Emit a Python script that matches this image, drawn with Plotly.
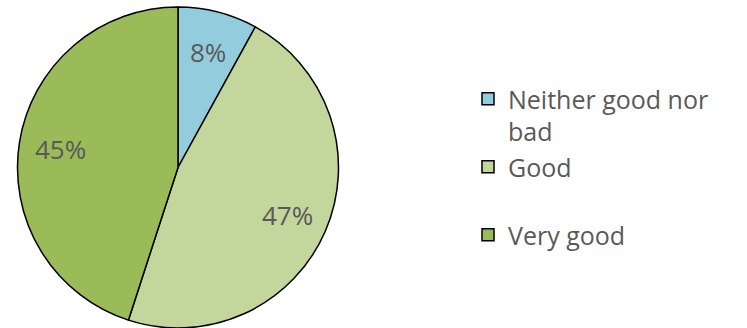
import math
import plotly.graph_objects as go

# Survey ratings
categories = ["Neither good nor<br>bad", "Good<br> ", "Very good"]
shares = [8, 47, 45]
slice_colors = ["#93CDDD", "#C3D69B", "#9BBB59"]

W, H = 747, 328
legend_font = dict(family="Open Sans", size=25, color="#595959")
label_font = dict(family="Open Sans", size=26, color="#595959")

# Pie placement in pixels (left, right, top, bottom of its domain)
pie_left, pie_right, pie_top, pie_bottom = 17, 339, 7, 328
cx = (pie_left + pie_right) / 2
cy = (pie_top + pie_bottom) / 2
radius = min(pie_right - pie_left, pie_bottom - pie_top) / 2
label_radius = 0.74 * radius

fig = go.Figure(
    go.Pie(
        labels=categories,
        values=shares,
        sort=False,
        direction="clockwise",
        rotation=0,
        marker=dict(colors=slice_colors, line=dict(color="#000000", width=1.5)),
        textinfo="none",
        domain=dict(x=[pie_left / W, pie_right / W], y=[1 - pie_bottom / H, 1 - pie_top / H]),
        hoverinfo="label+percent",
    )
)

# Percentage labels at the middle angle of each slice
total = sum(shares)
start = 0.0
for share in shares:
    mid = (start + share / 2) / total * 2 * math.pi
    px = cx + label_radius * math.sin(mid)
    py = cy - label_radius * math.cos(mid)
    fig.add_annotation(
        x=px / W,
        y=1 - py / H,
        xref="paper",
        yref="paper",
        text=f"{round(share / total * 100)}%",
        showarrow=False,
        font=label_font,
        xanchor="center",
        yanchor="middle",
    )
    start += share

fig.update_layout(
    width=W,
    height=H,
    margin=dict(l=0, r=0, t=0, b=0),
    paper_bgcolor="white",
    plot_bgcolor="white",
    font=legend_font,
    showlegend=True,
    legend=dict(
        x=468 / W,
        xanchor="left",
        y=1 - 76 / H,
        yanchor="top",
        valign="top",
        font=legend_font,
        bgcolor="rgba(0,0,0,0)",
        borderwidth=0,
    ),
)

fig.write_html("out.html")
